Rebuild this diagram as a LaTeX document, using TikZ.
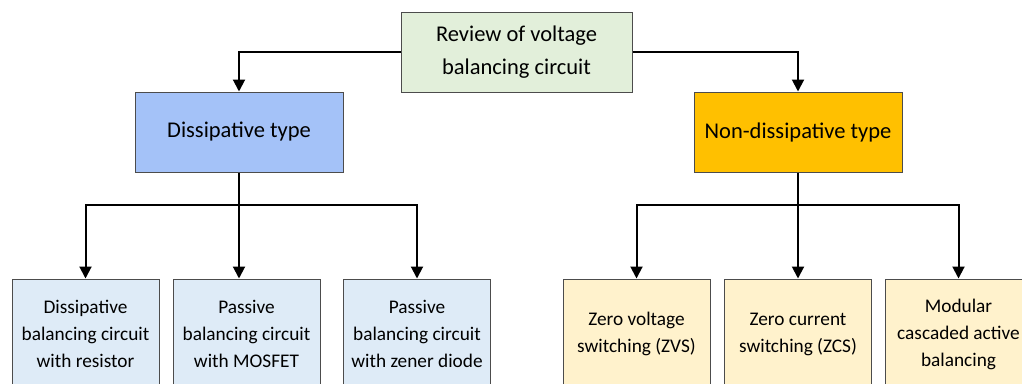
\documentclass[tikz,border=0pt]{standalone}
\usepackage{fontspec}
\setmainfont{Carlito}
\usetikzlibrary{arrows.meta, positioning, calc}

\definecolor{rootgreen}{HTML}{E2EFDA}
\definecolor{dissblue}{HTML}{A4C2F8}
\definecolor{nondissorange}{HTML}{FFC000}
\definecolor{leafblue}{HTML}{DEEBF7}
\definecolor{leafcream}{HTML}{FFF2CC}

\begin{document}
\begin{tikzpicture}[
    x=1pt, y=-1pt,
    >={Triangle[width=12pt,length=12pt]},
    box/.style={rectangle, draw=black!70, line width=1pt, align=center, inner sep=0pt},
    root/.style={box, fill=rootgreen, minimum width=231pt, minimum height=80pt, font=\fontsize{22.5}{33}\selectfont},
    branch/.style={box, minimum width=208pt, minimum height=80pt, font=\fontsize{22.5}{30}\selectfont},
    leaf/.style={box, minimum width=147pt, minimum height=110pt, font=\fontsize{19.3}{27}\selectfont},
    line/.style={->, line width=2pt}
]
\useasboundingbox (0,0) rectangle (1022,383);

\node[root] (review) at (516.5,52) {Review of voltage\\balancing circuit};

\node[branch, fill=dissblue] (diss) at (239,132) {Dissipative type};
\node[branch, fill=nondissorange] (nondiss) at (798,132) {Non-dissipative type};

\node[leaf, fill=leafblue] (resistor) at (85.5,334) {Dissipative\\balancing circuit\\with resistor};
\node[leaf, fill=leafblue] (mosfet) at (246.5,334) {Passive\\balancing circuit\\with MOSFET};
\node[leaf, fill=leafblue] (zener) at (417,334) {Passive\\balancing circuit\\with zener diode};

\node[leaf, fill=leafcream] (zvs) at (636.5,334) {Zero voltage\\switching (ZVS)};
\node[leaf, fill=leafcream] (zcs) at (798,334) {Zero current\\switching (ZCS)};
\node[leaf, fill=leafcream] (modular) at (958.5,334) {Modular\\cascaded active\\balancing};

\draw[line] (review.west) -| (diss.north);
\draw[line] (review.east) -| (nondiss.north);

\coordinate (dissjoin) at ($(diss.south)+(0,32)$);
\coordinate (nondissjoin) at ($(nondiss.south)+(0,32)$);

\draw[line width=2pt] (diss.south) -- (dissjoin);
\draw[line] (dissjoin) -| (resistor.north);
\draw[line] (dissjoin) -- (dissjoin |- mosfet.north);
\draw[line] (dissjoin) -| (zener.north);

\draw[line width=2pt] (nondiss.south) -- (nondissjoin);
\draw[line] (nondissjoin) -| (zvs.north);
\draw[line] (nondissjoin) -- (zcs.north);
\draw[line] (nondissjoin) -| (modular.north);
\end{tikzpicture}
\end{document}
